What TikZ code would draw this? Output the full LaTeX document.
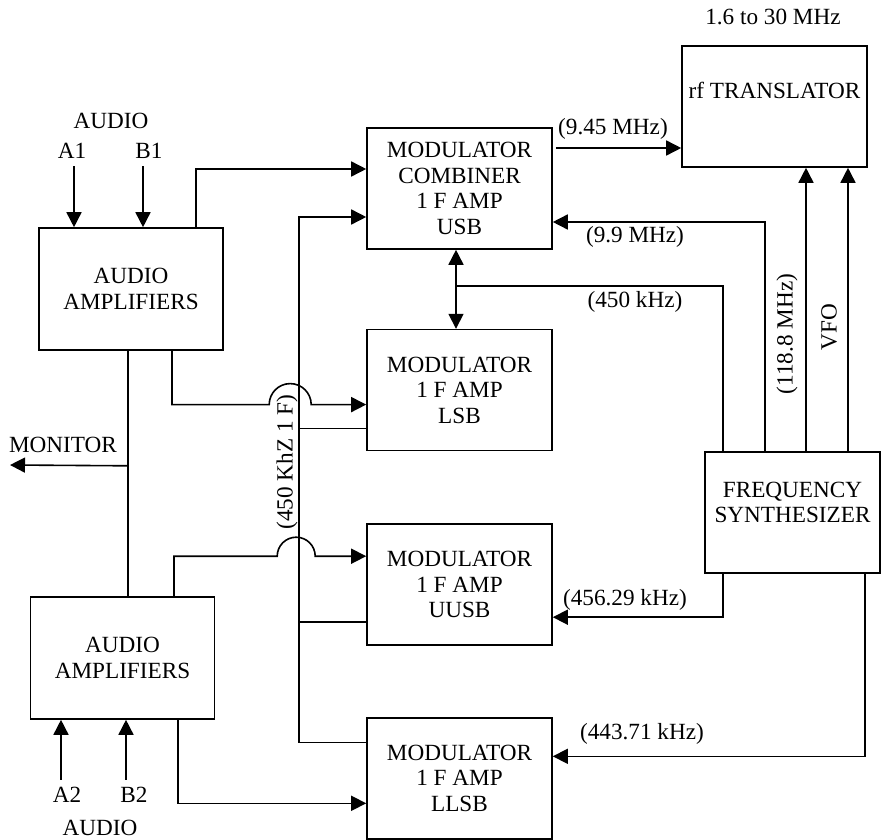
\documentclass[tikz,border=0pt]{standalone}
\usepackage{fontspec}
\setmainfont{Liberation Serif}
\usetikzlibrary{arrows.meta,positioning,calc}

\begin{document}
\begin{tikzpicture}[
  x=0.5pt, y=-0.5pt,
  font=\fontsize{11.6pt}{12.8pt}\selectfont,
  line width=0.8pt,
  box/.style={draw, align=center, minimum width=92.5pt, minimum height=60.5pt, inner sep=2pt},
  amp/.style={box, minimum width=92pt, minimum height=61pt},
  synthbox/.style={box, minimum width=87.5pt},
  vlbl/.style={inner sep=1pt, rotate=90},
  arrow/.style={-{Triangle[length=7.5pt,width=7.5pt]}},
  dblarrow/.style={{Triangle[length=7.5pt,width=7.5pt]}-{Triangle[length=7.5pt,width=7.5pt]}},
]
  \useasboundingbox (0,0) rectangle (883,840);

  % audio side
  \node[amp] (amp1) at (131,289) {AUDIO\\AMPLIFIERS};
  \node[amp] (amp2) at (122.5,658) {AUDIO\\AMPLIFIERS};
  \node (audio1) at (111,121) {AUDIO};
  \node (a1) at (72,151) {A1};
  \node (b1) at (149,151) {B1};
  \node (a2) at (67,795) {A2};
  \node (b2) at (134,795) {B2};
  \node (audio2) at (100,828) {AUDIO};
  \node (mon) at (63,445) {MONITOR};
  \coordinate (monout) at (10,465);

  % modulators
  \node[box] (comb) at (459.5,188.5) {MODULATOR\\COMBINER\\1 F AMP\\USB};
  \node[box, below=39.5pt of comb] (lsb) {MODULATOR\\1 F AMP\\LSB};
  \node[box, below=36pt of lsb] (uusb) {MODULATOR\\1 F AMP\\UUSB};
  \node[box, below=35.5pt of uusb] (llsb) {MODULATOR\\1 F AMP\\LLSB};

  % rf side
  \node[box] (rft) at (774.5,106.5) {rf TRANSLATOR\\[3.2pt]~};
  \node[synthbox] (synth) at (792.5,512.5) {FREQUENCY\\SYNTHESIZER\\[-2.5pt]~};
  \node (band) at (773,17) {1.6 to 30 MHz};

  % frequency labels
  \node[vlbl] (buslbl) at (287,462) {(450 KhZ 1 F)};
  \node (f945) at (613,129) {(9.45 MHz)};
  \node (f99) at (635,237) {(9.9 MHz)};
  \node (f450) at (635,302) {(450 kHz)};
  \node[vlbl] (f1188) at (787,334) {(118.8 MHz)};
  \node[vlbl] (fvfo) at (829,327) {VFO};
  \node (f45629) at (625,600) {(456.29 kHz)};
  \node (f44371) at (642,734) {(443.71 kHz)};

  % audio inputs
  \draw[arrow] ($(a1.south)+(2,0)$) -- ($(amp1.north)+(-57,0)$);
  \draw[arrow] ($(b1.south)+(-6,0)$) -- ($(amp1.north)+(12,0)$);
  \draw[arrow] ($(a2.north)+(-6,0)$) -- ($(amp2.south)+(-61.5,0)$);
  \draw[arrow] ($(b2.north)+(-8,0)$) -- ($(amp2.south)+(3.5,0)$);

  % monitor
  \draw ($(amp1.south)+(-3,0)$) -- ($(amp2.north)+(5.5,0)$);
  \draw[arrow] ($(amp1.south)+(-3,115)$) -- (monout);

  % audio to modulators
  \draw[arrow] ($(amp1.north)+(65,0)$) |- ($(comb.west)+(0,-19.5)$);
  \draw[arrow] ($(amp1.south)+(41,0)$) |- ($(lsb.west)+(-97,14.5)$)
    arc[start angle=180, end angle=0, radius=10.5pt] -- ($(lsb.west)+(0,14.5)$);
  \draw[arrow] ($(amp2.north)+(51.5,0)$) |- ($(uusb.west)+(-89,-28.5)$)
    arc[start angle=180, end angle=0, radius=9.5pt] -- ($(uusb.west)+(0,-28.5)$);
  \draw[arrow] ($(amp2.south)+(55.5,0)$) |- ($(llsb.west)+(0,25)$);

  % 450 kHz IF bus
  \draw[arrow] ($(llsb.west)+(0,-36)$) -- ++(-67,0) |- ($(comb.west)+(0,28.5)$);
  \draw ($(lsb.west)+(0,38.5)$) -- ++(-67,0);
  \draw ($(uusb.west)+(0,37)$) -- ++(-67,0);

  % synthesizer outputs
  \draw[dblarrow] ($(comb.south)+(-3.5,0)$) -- ($(lsb.north)+(-3.5,0)$);
  \draw ($(comb.south)+(-3.5,36)$) -| ($(synth.north)+(-69.5,0)$);
  \draw[arrow] ($(synth.north)+(-27.5,0)$) |- ($(comb.east)+(0,33.5)$);
  \draw[arrow] ($(comb.east)+(3,-40.5)$) -- ($(rft.west)+(0,41.5)$);
  \draw[arrow] ($(synth.north)+(13.5,0)$) -- ($(rft.south)+(31.5,0)$);
  \draw[arrow] ($(synth.north)+(55.5,0)$) -- ($(rft.south)+(73.5,0)$);
  \draw[arrow] ($(synth.south)+(-69.5,0)$) |- ($(uusb.east)+(0,32.5)$);
  \draw[arrow] ($(synth.south)+(72.5,0)$) |- ($(llsb.east)+(0,-22)$);
\end{tikzpicture}
\end{document}
